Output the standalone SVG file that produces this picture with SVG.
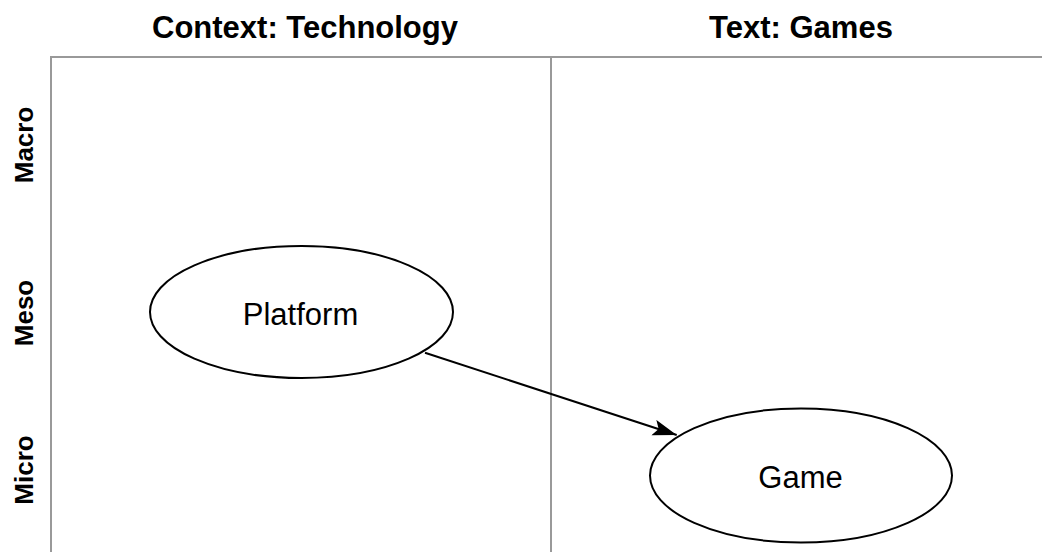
<svg xmlns="http://www.w3.org/2000/svg" width="1042" height="552" viewBox="0 0 1042 552">
<style>
.grid{stroke:#999999;stroke-width:2;fill:none}
.hdr{font-family:"Liberation Sans",Arial,sans-serif;font-weight:bold;font-size:31px;fill:#000;text-anchor:middle}
.side{font-family:"Liberation Sans",Arial,sans-serif;font-weight:bold;font-size:26px;fill:#000;text-anchor:middle}
.node{fill:#fff;stroke:#000;stroke-width:2}
.lbl{font-family:"Liberation Sans",Arial,sans-serif;font-size:31px;fill:#000;text-anchor:middle}
.edge{stroke:#000;stroke-width:2;fill:none}
</style>
<defs>
<marker id="arr" markerUnits="userSpaceOnUse" markerWidth="26" markerHeight="18" refX="24" refY="8" orient="auto">
<path d="M0,0 L24,8 L0,16 L5,8 Z" fill="#000"/>
</marker>
</defs>
<rect width="1042" height="552" fill="#fff"/>
<g id="grid">
<path class="grid" d="M51,552 V57 H1042"/>
<path class="grid" d="M551,57 V552"/>
</g>
<g id="headers">
<text class="hdr" x="305" y="38">Context: Technology</text>
<text class="hdr" x="801" y="38">Text: Games</text>
</g>
<g id="rows">
<text class="side" transform="translate(33,145) rotate(-90)">Macro</text>
<text class="side" transform="translate(33,313) rotate(-90)">Meso</text>
<text class="side" transform="translate(33,470) rotate(-90)">Micro</text>
</g>
<g id="connectors">
<path class="edge" d="M425,352.7 L676.7,435" marker-end="url(#arr)"/>
</g>
<g id="platform">
<ellipse class="node" cx="301.5" cy="312" rx="151.5" ry="66"/>
<text class="lbl" x="300.5" y="325">Platform</text>
</g>
<g id="game">
<ellipse class="node" cx="801" cy="475.5" rx="151" ry="67"/>
<text class="lbl" x="800.5" y="488">Game</text>
</g>
</svg>
